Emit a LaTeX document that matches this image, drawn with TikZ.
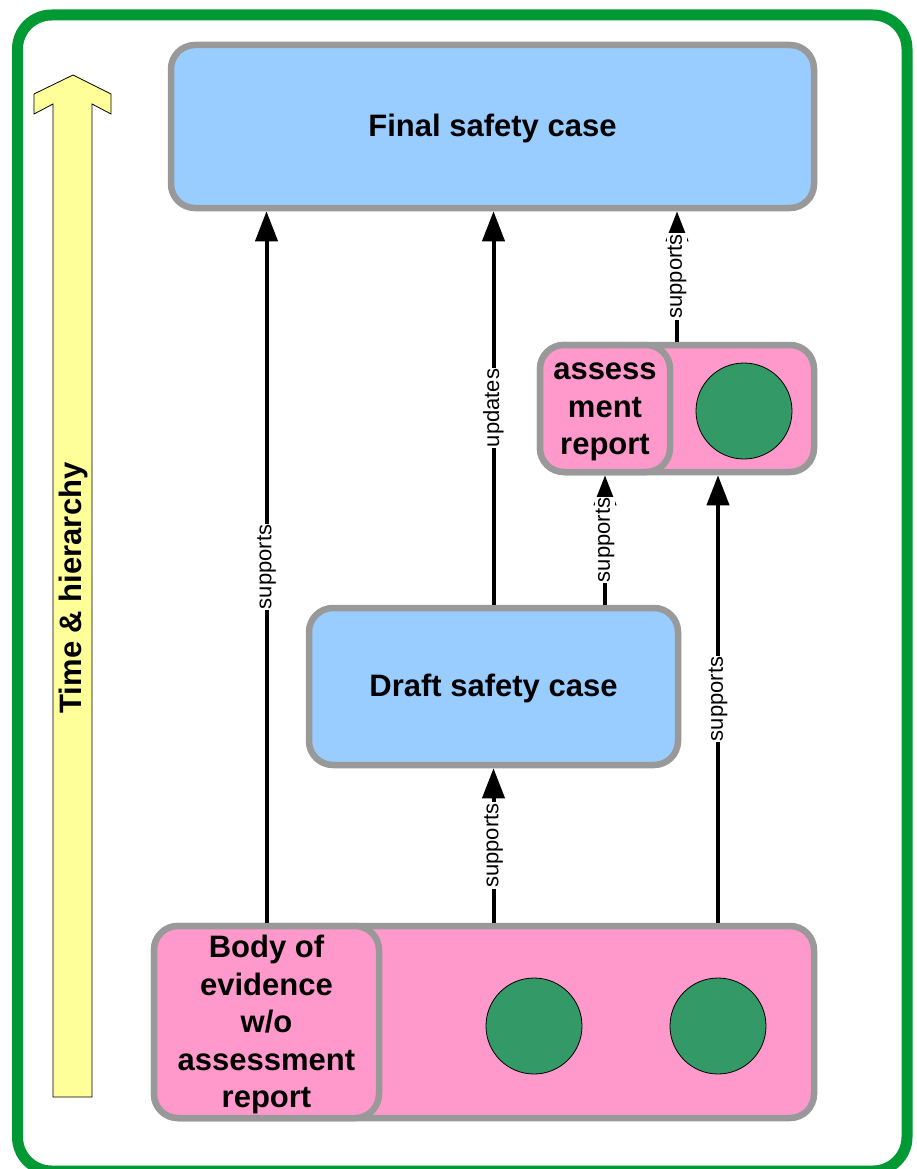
\documentclass[tikz,border=0pt]{standalone}
\usepackage{fontspec}
\setmainfont{Liberation Sans}
\usetikzlibrary{arrows.meta}
\definecolor{boxgray}{HTML}{999999}
\definecolor{lblue}{HTML}{99CCFF}
\definecolor{pinkf}{HTML}{FF99CC}
\definecolor{cgreen}{HTML}{339966}
\definecolor{framegreen}{HTML}{009933}
\definecolor{yel}{HTML}{FFFF99}
\begin{document}
\begin{tikzpicture}[x=1pt,y=-1pt,
  boxfont/.style={font=\bfseries\fontsize{31}{37.5}\selectfont},
  box/.style={draw=boxgray, line width=6.5pt, rounded corners=24pt, align=center, inner sep=0pt, boxfont},
  bluebox/.style={box, fill=lblue},
  pinkbox/.style={box, fill=pinkf},
  boxtext/.style={boxfont, align=center, inner sep=0pt},
  dot/.style={circle, draw=black, line width=0.8pt, fill=cgreen, minimum size=96pt, inner sep=0pt},
  conn/.style={line width=4pt, -{Triangle[length=30pt,width=22pt]}},
  lbl/.style={rotate=90, fill=white, inner sep=1pt, font=\fontsize{22}{22}\selectfont}
]
\useasboundingbox (0,0) rectangle (916,1169);
\draw[framegreen, line width=11pt, rounded corners=34pt] (17.5,15) rectangle (907,1171);

% time arrow
\draw[fill=yel, line width=0.8pt] (73,75) -- (111,94) -- (111,114) -- (92,104) -- (92,1097) -- (53,1097) -- (53,104) -- (34,114) -- (34,94) -- cycle;
\node[font=\bfseries\fontsize{31}{37}\selectfont, rotate=90] (timelbl) at (73,588) {Time \& hierarchy};

% boxes
\node[bluebox, minimum width=643pt, minimum height=163pt] (final) at (492.5,126.5) {};
\node[boxtext] (finaltxt) at (492.5,128) {Final safety case};
\node[bluebox, minimum width=369pt, minimum height=157pt] (draft) at (493.5,686.5) {};
\node[boxtext] (drafttxt) at (493.5,688) {Draft safety case};

\node[pinkbox, minimum width=274pt, minimum height=127pt] (assessouter) at (677,408.5) {};
\node[pinkbox, minimum width=130pt, minimum height=127pt] (assessinner) at (605,408.5) {};
\node[boxtext] (assesstxt) at (605,412) {assess\\ment\\report};
\node[dot] (a1) at (744,411) {};

\node[pinkbox, minimum width=660pt, minimum height=192pt] (bodyouter) at (484,1022) {};
\node[pinkbox, minimum width=225pt, minimum height=192pt] (bodyinner) at (266.5,1022) {};
\node[boxtext] (bodytxt) at (266.5,1024.5) {Body of\\evidence\\w/o\\assessment\\report};
\node[dot] (b1) at (534,1026) {};
\node[dot] (b2) at (718,1026) {};

% connectors
\draw[conn] (bodyinner.north) -- node[lbl] {supports} (bodyinner.north |- final.south);
\draw[conn] (draft.north) -- node[lbl] {updates} (draft.north |- final.south);
\draw[conn] (assessouter.north) -- node[lbl] {supports} (assessouter.north |- final.south);
\draw[conn] (draft.north -| assessinner.south) -- node[lbl] {supports} (assessinner.south);
\draw[conn] (bodyouter.north -| b2) -- node[lbl] {supports} (assessouter.south -| b2);
\draw[conn] (bodyouter.north -| draft.south) -- node[lbl] {supports} (draft.south);
\end{tikzpicture}
\end{document}
